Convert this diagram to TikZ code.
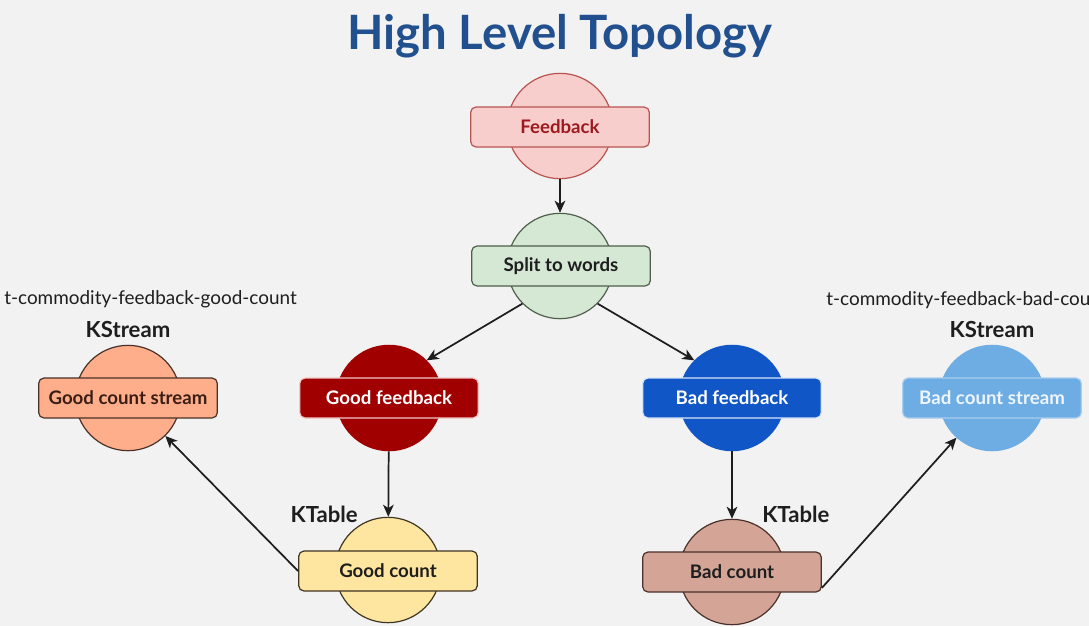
\documentclass[tikz,border=0pt]{standalone}
\usepackage{fontspec}
\setmainfont{Lato}
\usetikzlibrary{arrows.meta}
\definecolor{bg}{HTML}{F2F2F2}
\definecolor{titleblue}{HTML}{22508F}
\definecolor{fbfill}{HTML}{F8CECC}
\definecolor{fbdraw}{HTML}{B85450}
\definecolor{fbtext}{HTML}{9C1A1F}
\definecolor{spfill}{HTML}{D5E8D4}
\definecolor{spdraw}{HTML}{4E5F4C}
\definecolor{gffill}{HTML}{A00000}
\definecolor{gfdraw}{HTML}{F4C7C7}
\definecolor{bffill}{HTML}{1156C7}
\definecolor{bfdraw}{HTML}{D6E4F8}
\definecolor{gsfill}{HTML}{FFAE8C}
\definecolor{gsdraw}{HTML}{4A3128}
\definecolor{gstext}{HTML}{3A1E14}
\definecolor{bsfill}{HTML}{6EADE3}
\definecolor{bsdraw}{HTML}{A9CDEE}
\definecolor{bstext}{HTML}{EEF5FC}
\definecolor{gcfill}{HTML}{FFE6A0}
\definecolor{gcdraw}{HTML}{3E3522}
\definecolor{bcfill}{HTML}{D4A596}
\definecolor{bcdraw}{HTML}{4A302A}
\definecolor{ink}{HTML}{1E1E1E}
\begin{document}
\begin{tikzpicture}[x=0.75pt,y=-0.75pt,
  circ/.style={circle,minimum size=79pt,inner sep=0pt,draw,line width=0.9pt},
  bar/.style={rectangle,rounded corners=4pt,minimum width=134pt,minimum height=30pt,inner sep=0pt,draw,line width=0.9pt,font=\fontsize{14}{16}\selectfont\bfseries},
  arr/.style={-{Stealth[length=9pt,width=8pt,inset=2.5pt]},line width=1.3pt,draw=ink},
  lbl/.style={font=\fontsize{16.6}{19}\selectfont\bfseries,text=ink,inner sep=0pt},
  topic/.style={font=\fontsize{14.2}{16}\selectfont,text=ink,inner sep=0pt}]
\path[fill=bg] (0,0) rectangle (1089,626);
\useasboundingbox (0,0) rectangle (1089,626);

\node[font=\fontsize{35.5}{40}\selectfont\bfseries,text=titleblue] (title) at (560,36) {High Level Topology};

% Feedback
\node[circ,fill=fbfill,draw=fbdraw] (fb) at (560,126) {};
\node[bar,fill=fbfill,draw=fbdraw,text=fbtext] (fbr) at (560,127) {Feedback};
% Split
\node[circ,fill=spfill,draw=spdraw] (sp) at (560,266) {};
\node[bar,fill=spfill,draw=spdraw,text=ink] (spr) at (561,266) {Split to words};
% Good feedback
\node[circ,fill=gffill,draw=gffill] (gf) at (389,398) {};
\node[bar,fill=gffill,draw=gfdraw,text=white] (gfr) at (389,398) {Good feedback};
% Bad feedback
\node[circ,fill=bffill,draw=bffill] (bf) at (732,398) {};
\node[bar,fill=bffill,draw=bfdraw,text=white] (bfr) at (732,398) {Bad feedback};
% Good count stream
\node[circ,fill=gsfill,draw=gsdraw] (gs) at (128,398) {};
\node[bar,fill=gsfill,draw=gsdraw,text=gstext] (gsr) at (128,398) {Good count stream};
% Bad count stream
\node[circ,fill=bsfill,draw=bsfill] (bs) at (992,398) {};
\node[bar,fill=bsfill,draw=bsdraw,text=bstext] (bsr) at (992,398) {Bad count stream};
% Good count
\node[circ,fill=gcfill,draw=gcdraw] (gc) at (388,570) {};
\node[bar,fill=gcfill,draw=gcdraw,text=ink] (gcr) at (388,571) {Good count};
% Bad count
\node[circ,fill=bcfill,draw=bcdraw] (bc) at (732,572) {};
\node[bar,fill=bcfill,draw=bcdraw,text=ink] (bcr) at (732,572) {Bad count};

% labels
\node[topic,anchor=west] (tg) at (4,299) {t-commodity-feedback-good-count};
\node[topic,anchor=west] (tb) at (826,300) {t-commodity-feedback-bad-count};
\node[lbl] (ksg) at (128,329) {KStream};
\node[lbl] (ksb) at (992,329) {KStream};
\node[lbl,anchor=east] (ktg) at (358,514) {KTable};
\node[lbl,anchor=west] (ktb) at (762,514) {KTable};

% connectors
\draw[arr] (fb) -- (sp);
\draw[arr] (sp.-135) -- (gf.45);
\draw[arr] (sp.-45) -- (bf.135);
\draw[arr] (gf) -- (gc);
\draw[arr] (bf) -- (bc);
\draw[arr] (gcr.west) -- (gs);
\draw[arr] (bcr.-10) -- (bs);
\end{tikzpicture}
\end{document}
